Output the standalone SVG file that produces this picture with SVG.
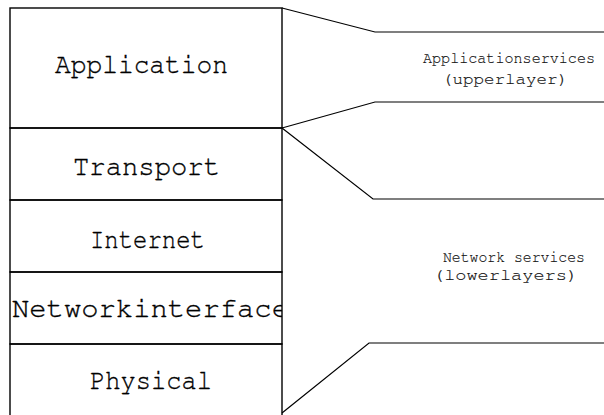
<svg xmlns="http://www.w3.org/2000/svg" width="604" height="415" viewBox="0 0 604 415">
  <style>
    .box { fill: none; stroke: #000; stroke-width: 1.4; }
    .conn { fill: none; stroke: #000; stroke-width: 1.2; }
    .layer { font-family: "FreeMono", "Nimbus Mono PS", "Courier", "Liberation Mono", monospace; font-size: 29px; fill: #000; stroke: #000; stroke-width: 0.35; }
    .note { font-family: "FreeMono", "Nimbus Mono PS", "Courier", "Liberation Mono", monospace; font-size: 15.5px; fill: #111; stroke: #111; stroke-width: 0.15; }
  </style>
  <defs>
    <clipPath id="stackClip">
      <rect x="10" y="8" width="272" height="410"/>
    </clipPath>
  </defs>
  <rect width="604" height="415" fill="#fff"/>

  <!-- protocol stack -->
  <g id="application">
    <rect class="box" x="10" y="8" width="272" height="120"/>
    <text class="layer" x="55" y="73" textLength="173" lengthAdjust="spacingAndGlyphs">Application</text>
  </g>
  <g id="transport">
    <rect class="box" x="10" y="128" width="272" height="72"/>
    <text class="layer" x="73" y="175" textLength="147" lengthAdjust="spacingAndGlyphs">Transport</text>
  </g>
  <g id="internet">
    <rect class="box" x="10" y="200" width="272" height="72"/>
    <text class="layer" x="90" y="248" textLength="115" lengthAdjust="spacingAndGlyphs">Internet</text>
  </g>
  <g id="network-interface">
    <rect class="box" x="10" y="272" width="272" height="72"/>
    <text class="layer" x="12" y="317" textLength="277" lengthAdjust="spacingAndGlyphs" clip-path="url(#stackClip)">Networkinterface</text>
  </g>
  <g id="physical">
    <rect class="box" x="10" y="344" width="272" height="75"/>
    <text class="layer" x="90" y="389" textLength="122" lengthAdjust="spacingAndGlyphs">Physical</text>
  </g>

  <!-- service brackets -->
  <g id="connectors">
    <polyline class="conn" points="282,8 375,32 604,32"/>
    <polyline class="conn" points="282,128 375,102 604,102"/>
    <polyline class="conn" points="282,128 373,199 604,199"/>
    <polyline class="conn" points="282,413 369,343 604,343"/>
  </g>

  <g id="application-services">
    <text class="note" x="423" y="63" textLength="172" lengthAdjust="spacingAndGlyphs">Applicationservices</text>
    <text class="note" x="442" y="84" textLength="126" lengthAdjust="spacingAndGlyphs">(upperlayer)</text>
  </g>
  <g id="network-services">
    <text class="note" x="443" y="262" textLength="142" lengthAdjust="spacingAndGlyphs">Network services</text>
    <text class="note" x="433" y="280" textLength="145" lengthAdjust="spacingAndGlyphs">(lowerlayers)</text>
  </g>
</svg>
